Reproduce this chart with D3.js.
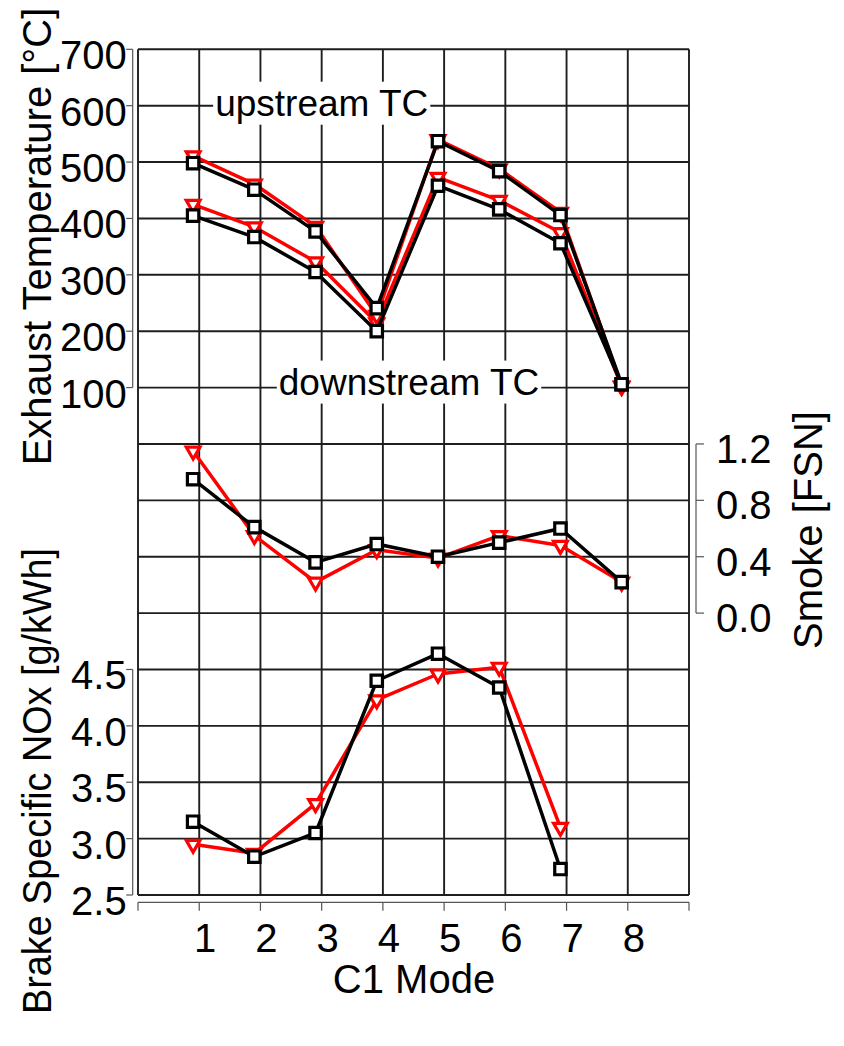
<!DOCTYPE html>
<html>
<head>
<meta charset="utf-8">
<script src="https://cdn.jsdelivr.net/npm/d3@7"></script>
<style>
  html, body { margin: 0; padding: 0; background: #fff; }
  svg { display: block; }
  text { font-family: "Liberation Sans", Arial, Helvetica, sans-serif; fill: #000; }
</style>
</head>
<body>
<svg id="chart" width="844" height="1046"></svg>
<script>
// ---- data -------------------------------------------------------------
const modes = [1, 2, 3, 4, 5, 6, 7, 8];
const noxModes = [1, 2, 3, 4, 5, 6, 7];

// Exhaust temperature [°C], upstream / downstream of the turbocharger
const tempUpBase   = [498, 451, 377, 241, 537, 484, 406, 106];
const tempUpAlt    = [511, 461, 386, 228, 540, 488, 411, 103];
const tempDownBase = [405, 367, 305, 200, 458, 416, 356, 106];
const tempDownAlt  = [425, 385, 323, 215, 473, 432, 375, 102];

// Smoke [FSN]
const smokeBase = [0.95, 0.61, 0.36, 0.49, 0.40, 0.50, 0.60, 0.22];
const smokeAlt  = [1.15, 0.55, 0.22, 0.45, 0.39, 0.55, 0.48, 0.22];

// Brake specific NOx [g/kWh]
const noxBase = [3.15, 2.84, 3.05, 4.40, 4.64, 4.34, 2.73];
const noxAlt  = [2.95, 2.87, 3.31, 4.23, 4.46, 4.52, 3.10];

const tempTicks  = [100, 200, 300, 400, 500, 600, 700];
const smokeTicks = [0.0, 0.4, 0.8, 1.2];
const noxTicks   = [2.5, 3.0, 3.5, 4.0, 4.5];
const modeTicks  = modes;

// ---- layout -----------------------------------------------------------
const svg = d3.select("#chart");
const plotLeft = 138, plotRight = 689, plotTop = 49.3, plotBottom = 895;
const rows = 15;
const rowH = (plotBottom - plotTop) / rows;
const rowY = i => plotTop + i * rowH;

const x = d3.scaleLinear().domain([0, 9]).range([plotLeft, plotRight]);
const pointShift = -0.1;            // markers sit just left of the grid line

const yTemp  = d3.scaleLinear().domain([0, 700]).range([rowY(7), rowY(0)]);
const ySmoke = d3.scaleLinear().domain([0, 1.2]).range([rowY(10), rowY(7)]);
const yNox   = d3.scaleLinear().domain([2.5, 4.5]).range([rowY(15), rowY(11)]);

const gridColor = "#1e1e1e";
const axisColor = "#555";
const font = 40;

svg.append("rect").attr("width", 844).attr("height", 1046).attr("fill", "#fff");

// ---- grid & frame -----------------------------------------------------
const grid = svg.append("g").attr("stroke", gridColor).attr("stroke-width", 1.9);
d3.range(0, rows + 1).forEach(i => {
  grid.append("line").attr("x1", plotLeft).attr("x2", plotRight)
    .attr("y1", rowY(i)).attr("y2", rowY(i));
});
d3.range(0, 10).forEach(k => {
  grid.append("line").attr("x1", x(k)).attr("x2", x(k))
    .attr("y1", plotTop).attr("y2", plotBottom);
});

// ---- in-plot labels with white boxes ---------------------------------
function boxedLabel(txt, xs, ys) {
  const g = svg.append("g");
  const t = g.append("text").attr("x", xs).attr("y", ys)
    .attr("font-size", 37).text(txt);
  const b = t.node().getBBox();
  g.insert("rect", "text")
    .attr("x", b.x - 2).attr("y", b.y - 1)
    .attr("width", b.width + 4).attr("height", b.height + 2)
    .attr("fill", "#fff");
}
boxedLabel("upstream TC", x(1.26), yTemp(600) + 10);
boxedLabel("downstream TC", x(2.3), yTemp(100) + 7);

// ---- axes -------------------------------------------------------------
function leftAxis(scale, ticks, fmt) {
  const ax = 132.7;
  const g = svg.append("g");
  const [y0, y1] = d3.extent(ticks.map(scale));
  g.append("line").attr("x1", ax).attr("x2", ax).attr("y1", y0).attr("y2", y1)
    .attr("stroke", axisColor).attr("stroke-width", 1.2);
  ticks.forEach(v => {
    g.append("line").attr("x1", ax - 6.5).attr("x2", ax)
      .attr("y1", scale(v)).attr("y2", scale(v))
      .attr("stroke", axisColor).attr("stroke-width", 1.2);
    g.append("text").attr("x", ax - 6).attr("y", scale(v) + 20)
      .attr("text-anchor", "end").attr("font-size", font).text(fmt(v));
  });
}
leftAxis(yTemp, tempTicks, d3.format("d"));
leftAxis(yNox, noxTicks, d3.format(".1f"));

// smoke axis on the right
(function () {
  const ax = 696;
  const g = svg.append("g");
  g.append("line").attr("x1", ax).attr("x2", ax)
    .attr("y1", ySmoke(0)).attr("y2", ySmoke(1.2))
    .attr("stroke", axisColor).attr("stroke-width", 1.2);
  smokeTicks.forEach(v => {
    g.append("line").attr("x1", ax).attr("x2", ax + 8)
      .attr("y1", ySmoke(v)).attr("y2", ySmoke(v))
      .attr("stroke", axisColor).attr("stroke-width", 1.2);
    g.append("text").attr("x", ax + 20).attr("y", ySmoke(v) + 19)
      .attr("font-size", font).text(d3.format(".1f")(v));
  });
})();

// bottom mode axis
(function () {
  const ay = 902.3;
  const g = svg.append("g");
  g.append("line").attr("x1", plotLeft).attr("x2", plotRight).attr("y1", ay).attr("y2", ay)
    .attr("stroke", axisColor).attr("stroke-width", 1.2);
  d3.range(0, 10).forEach(k => {
    g.append("line").attr("x1", x(k)).attr("x2", x(k))
      .attr("y1", ay).attr("y2", ay + 8.5)
      .attr("stroke", axisColor).attr("stroke-width", 1.2);
  });
  modeTicks.forEach(m => {
    g.append("text").attr("x", x(m) + 6).attr("y", 952)
      .attr("text-anchor", "middle").attr("font-size", font).text(m);
  });
})();

// ---- axis titles ------------------------------------------------------
function vTitle(txt, xb, yc, len) {
  const t = svg.append("text")
    .attr("transform", `translate(${xb},${yc}) rotate(-90)`)
    .attr("text-anchor", "middle").attr("font-size", font).text(txt);
  if (len) t.attr("textLength", len).attr("lengthAdjust", "spacingAndGlyphs");
}
vTitle("Exhaust Temperature [°C]", 50.5, 236.5);
vTitle("Brake Specific NOx [g/kWh]", 50.5, 781, 466);
vTitle("Smoke [FSN]", 822, 530);

svg.append("text").attr("x", 414).attr("y", 993)
  .attr("text-anchor", "middle").attr("font-size", font).text("C1 Mode");

// ---- series -----------------------------------------------------------
const red = "#ff0000", black = "#000000";
const sqSymbol = d3.symbol().type(d3.symbolSquare).size(130);
const triSymbol = d3.symbol().type(d3.symbolTriangle).size(82);

function series(xs, ys, yScale, color, marker) {
  const pts = xs.map((m, i) => [x(m + pointShift), yScale(ys[i])]);
  const g = svg.append("g");
  g.append("path").attr("d", d3.line()(pts))
    .attr("fill", "none").attr("stroke", color).attr("stroke-width", 3.5)
    .attr("stroke-linejoin", "round");
  g.selectAll("path.m").data(pts).join("path").attr("class", "m")
    .attr("d", marker === "square" ? sqSymbol() : triSymbol())
    .attr("transform", d => marker === "square"
      ? `translate(${d[0]},${d[1]})`
      : `translate(${d[0]},${d[1]}) rotate(180)`)
    .attr("fill", "#fff").attr("stroke", color).attr("stroke-width", 3.2);
}

series(modes, tempDownAlt, yTemp, red, "tri");
series(modes, tempUpAlt, yTemp, red, "tri");
series(modes, tempDownBase, yTemp, black, "square");
series(modes, tempUpBase, yTemp, black, "square");

series(modes, smokeAlt, ySmoke, red, "tri");
series(modes, smokeBase, ySmoke, black, "square");

series(noxModes, noxAlt, yNox, red, "tri");
series(noxModes, noxBase, yNox, black, "square");
</script>
</body>
</html>
